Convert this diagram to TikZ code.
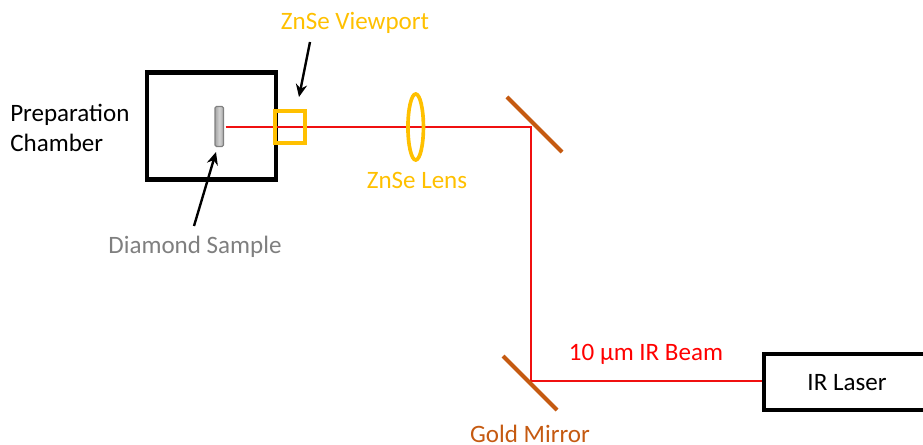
\documentclass[tikz,border=0pt]{standalone}
\usepackage{fontspec}
\setmainfont{Carlito}
\usetikzlibrary{arrows.meta, shapes.geometric}
\definecolor{lensyellow}{HTML}{FFC000}
\definecolor{goldbrown}{HTML}{C55A11}
\definecolor{samplegray}{HTML}{7F7F7F}
\definecolor{beamred}{HTML}{F01010}
\begin{document}
\begin{tikzpicture}[
                x = 0.025cm, y = -0.025cm,
                box/.style = {draw, line width = 2.9pt, inner sep = 0mm},
                lbl/.style = {font = \fontsize{17.8}{21.3}\selectfont, inner sep = 0mm},
                optic/.style = {draw = lensyellow, line width = 2.6pt, inner sep = 0mm},
                mirror/.style = {draw = goldbrown, line width = 2.9pt},
                beam/.style = {draw = beamred, line width = 2pt},
                arr/.style = {draw, line width = 1.7pt, -{Stealth[length = 9pt, width = 8pt]}},
            ]
            \useasboundingbox (0, 0) rectangle (923, 445);
            \clip (0, 0) rectangle (923, 445);

            \node (chamber) at (211.5, 126) [box, minimum width = 129 * 0.025cm, minimum height = 107 * 0.025cm] {};
            \node (laser) at (845, 382) [box, minimum width = 162 * 0.025cm, minimum height = 56 * 0.025cm] {};
            \node (sample) at (219.3, 126.5) [draw = gray, line width = 0.8pt, rounded corners = 1pt, left color = gray!70, right color = gray!70, middle color = gray!35, inner sep = 0mm, minimum width = 8.5 * 0.025cm, minimum height = 40 * 0.025cm] {};

            \coordinate (start) at (225.7, 127);
            \coordinate (corner1) at (531, 127);
            \coordinate (corner2) at (531, 381);
            \path[beam] (start) -- (corner1) -- (corner2) -- (laser.west |- corner2);

            \node (viewport) at (290, 127) [optic, minimum width = 30 * 0.025cm, minimum height = 32 * 0.025cm] {};
            \node (lens) at (415.7, 127) [optic, ellipse, minimum width = 15.5 * 0.025cm, minimum height = 66 * 0.025cm] {};

            \coordinate (M1a) at (507, 97);
            \coordinate (M1b) at (562, 152);
            \coordinate (M2a) at (503, 356);
            \coordinate (M2b) at (557, 410);
            \path[mirror] (M1a) -- (M1b);
            \path[mirror] (M2a) -- (M2b);

            \node (prep) at (10, 128) [lbl, anchor = west, align = left] {Preparation\\Chamber};
            \node (vplabel) at (355, 22.5) [lbl, text = lensyellow] {ZnSe Viewport};
            \node (lenslabel) at (417, 180) [lbl, text = lensyellow] {ZnSe Lens};
            \node (samplelabel) at (195, 247) [lbl, text = samplegray] {Diamond Sample};
            \node (beamlabel) at (646, 354) [lbl, text = red] {10 µm IR Beam};
            \node (mirrorlabel) at (530, 434) [lbl, text = goldbrown] {Gold Mirror};
            \node (laserlabel) at (847, 383) [lbl] {IR Laser};

            \coordinate (A1) at (310, 42);
            \coordinate (A2) at (299, 97);
            \coordinate (B1) at (194, 226);
            \coordinate (B2) at (216, 152);
            \path[arr] (A1) -- (A2);
            \path[arr] (B1) -- (B2);
        \end{tikzpicture}
\end{document}
